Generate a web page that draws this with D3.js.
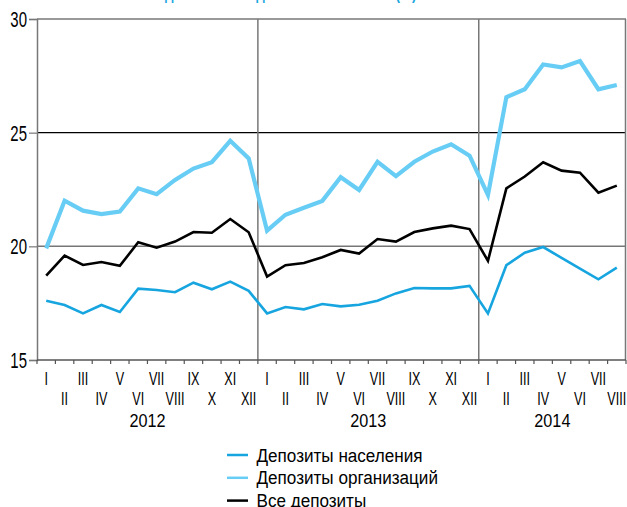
<!DOCTYPE html>
<html>
<head>
<meta charset="utf-8">
<script src="https://cdn.jsdelivr.net/npm/d3@7"></script>
<style>
  html, body { margin: 0; padding: 0; background: #fff; }
  svg { display: block; font-family: "Liberation Sans", Arial, sans-serif; }
</style>
</head>
<body>
<svg id="chart" width="627" height="507"></svg>
<script>
// Months Jan 2012 – Aug 2014
const months = ["I","II","III","IV","V","VI","VII","VIII","IX","X","XI","XII"];
const years = [2012, 2013, 2014];
const periods = [];
years.forEach(y => months.forEach((m, i) => {
  if (y < 2014 || i < 8) periods.push({ year: y, month: m, key: y + "-" + (i + 1) });
}));

// Share of deposits (%)
const population = [
  17.61, 17.42, 17.05, 17.42, 17.11, 18.14, 18.08, 17.98, 18.40, 18.11, 18.45, 18.04,
  17.05, 17.33, 17.23, 17.46, 17.36, 17.43, 17.61, 17.93, 18.17, 18.15, 18.15, 18.26,
  17.05, 19.17, 19.72, 19.97, 19.49, 19.02, 18.55, 19.06
];
const organizations = [
  19.91, 22.01, 21.57, 21.42, 21.53, 22.55, 22.29, 22.92, 23.42, 23.70, 24.64, 23.87,
  20.69, 21.39, 21.70, 22.00, 23.04, 22.48, 23.72, 23.09, 23.72, 24.17, 24.49, 23.99,
  22.26, 26.56, 26.91, 28.00, 27.87, 28.15, 26.91, 27.10
];
const allDeposits = [
  18.71, 19.59, 19.18, 19.31, 19.14, 20.18, 19.94, 20.21, 20.63, 20.60, 21.20, 20.62,
  18.67, 19.17, 19.27, 19.52, 19.84, 19.68, 20.32, 20.21, 20.63, 20.79, 20.91, 20.76,
  19.36, 22.55, 23.07, 23.70, 23.33, 23.24, 22.36, 22.67
];
const yTicks = [15, 20, 25, 30];

const series = [
  { name: "Депозиты населения", values: population, color: "#17a5e0", width: 2.6 },
  { name: "Депозиты организаций", values: organizations, color: "#68cdf5", width: 4.2 },
  { name: "Все депозиты", values: allDeposits, color: "#000000", width: 2.6 }
];

const svg = d3.select("#chart");
const plotLeft = 37, plotRight = 626, plotTop = 19, plotBottom = 360;

const x = d3.scaleBand().domain(periods.map(p => p.key)).range([plotLeft, plotRight]).paddingInner(0).paddingOuter(0);
const y = d3.scaleLinear().domain([15, 30]).range([plotBottom, plotTop]);

// Narrow-looking text: regular face squeezed horizontally
function narrowText(sel, tx, ty, sx, size, anchor) {
  return sel.append("text")
    .attr("transform", `translate(${tx},${ty}) scale(${sx},1)`)
    .attr("text-anchor", anchor || "middle")
    .attr("font-size", size)
    .attr("fill", "#000");
}

// Title (sits above the top edge, only descenders show)
narrowText(svg, 287, -1.5, 0.75, 18, "middle")
  .attr("font-weight", "bold")
  .attr("fill", "#1aa7e0")
  .text("Удельный вес депозитов в валюте (%)");

// Horizontal grid lines
svg.append("line").attr("x1", plotLeft).attr("x2", plotRight)
  .attr("y1", y(25)).attr("y2", y(25)).attr("stroke", "#000").attr("stroke-width", 1.2);
svg.append("line").attr("x1", plotLeft).attr("x2", plotRight)
  .attr("y1", y(20)).attr("y2", y(20)).attr("stroke", "#777").attr("stroke-width", 1.5);

// Frame: top and right
svg.append("line").attr("x1", plotLeft).attr("x2", plotRight)
  .attr("y1", y(30)).attr("y2", y(30)).attr("stroke", "#777").attr("stroke-width", 1.5);
svg.append("line").attr("x1", plotRight - 0.5).attr("x2", plotRight - 0.5)
  .attr("y1", y(30)).attr("y2", y(15)).attr("stroke", "#777").attr("stroke-width", 1.5);

// Year separators
[2013, 2014].forEach(yr => {
  const xv = x(yr + "-1");
  svg.append("line").attr("x1", xv).attr("x2", xv)
    .attr("y1", y(30)).attr("y2", y(15)).attr("stroke", "#777").attr("stroke-width", 1.5);
});

// Y axis (ticks from d3, labels squeezed)
const yAxis = svg.append("g").attr("transform", `translate(${plotLeft},0)`)
  .call(d3.axisLeft(y).tickValues(yTicks).tickSize(8).tickFormat(""));
yAxis.select(".domain").attr("stroke", "#777").attr("stroke-width", 1.5);
yAxis.selectAll(".tick line").attr("stroke", "#777").attr("stroke-width", 1.2);
yTicks.forEach(v => {
  narrowText(svg, 27, y(v) + 8, 0.68, 22, "end").text(d3.format("d")(v));
});

// X axis: ticks at band boundaries
const bounds = periods.map(p => x(p.key)).concat([plotRight]);
const xg = svg.append("g");
xg.append("line").attr("x1", plotLeft).attr("x2", plotRight).attr("y1", plotBottom).attr("y2", plotBottom)
  .attr("stroke", "#555").attr("stroke-width", 1.5);
xg.selectAll("line.tk").data(bounds).join("line").attr("class", "tk")
  .attr("x1", d => d).attr("x2", d => d).attr("y1", plotBottom).attr("y2", plotBottom + 4)
  .attr("stroke", "#555").attr("stroke-width", 1.2);

// Month labels, alternating rows
periods.forEach((p, i) => {
  narrowText(xg, x(p.key) + x.bandwidth() / 2, i % 2 === 0 ? 385 : 404.5, 0.7, 18, "middle")
    .text(p.month);
});

// Year labels
years.forEach(yr => {
  const ps = periods.filter(p => p.year === yr);
  const x0 = x(ps[0].key), x1 = x(ps[ps.length - 1].key) + x.bandwidth();
  narrowText(svg, (x0 + x1) / 2, 427, 0.9, 18, "middle").text(yr);
});

// Lines
const line = d3.line()
  .x((d, i) => x(periods[i].key) + x.bandwidth() / 2)
  .y(d => y(d));
series.forEach(s => {
  svg.append("path").datum(s.values)
    .attr("d", line)
    .attr("fill", "none")
    .attr("stroke", s.color)
    .attr("stroke-width", s.width)
    .attr("stroke-linejoin", "miter");
});

// Legend
const lg = svg.append("g");
series.forEach((s, i) => {
  const yy = 455 + i * 22.8;
  lg.append("line").attr("x1", 227).attr("x2", 248).attr("y1", yy).attr("y2", yy)
    .attr("stroke", s.color).attr("stroke-width", 2.5);
  narrowText(lg, 256.5, yy + 6.5, 0.9, 19, "start").text(s.name);
});
</script>
</body>
</html>
